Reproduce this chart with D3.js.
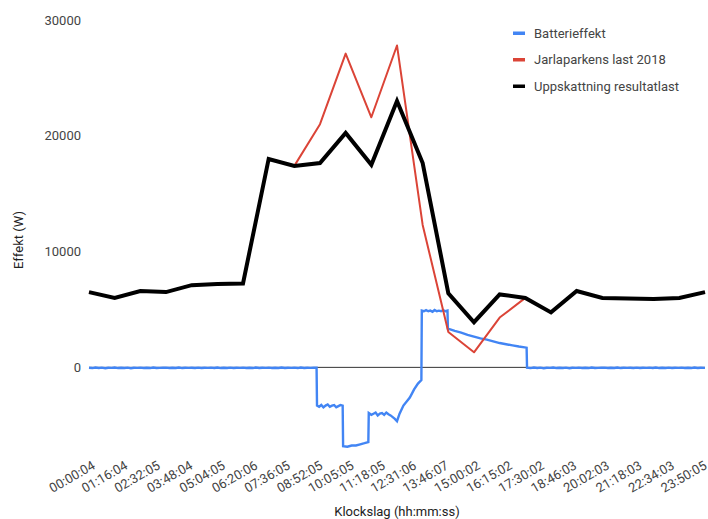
<!DOCTYPE html>
<html>
<head>
<meta charset="utf-8">
<script src="https://cdn.jsdelivr.net/npm/d3@7"></script>
<style>
  html, body { margin: 0; padding: 0; background: #fff; }
  svg { display: block; font-family: Roboto, "Noto Sans", Arial, sans-serif; }
</style>
</head>
<body>
<svg id="chart" width="708" height="519"></svg>
<script>
// ---------- data ----------
const seriesNames = ["Batterieffekt", "Jarlaparkens last 2018", "Uppskattning resultatlast"];
const seriesColors = ["#4285f4", "#db4437", "#000000"];

const xTickLabels = ["00:00:04","01:16:04","02:32:05","03:48:04","05:04:05","06:20:06","07:36:05","08:52:05",
  "10:05:05","11:18:05","12:31:06","13:46:07","15:00:02","16:15:02","17:30:02","18:46:03",
  "20:02:03","21:18:03","22:34:03","23:50:05"];
const yTickValues = [0, 10000, 20000, 30000];

const hourTimes = ["00:00","01:00","02:00","03:00","04:00","05:00","06:00","07:00","08:00","09:00",
  "10:00","11:00","12:00","13:00","14:00","15:00","16:00","17:00","18:00","19:00",
  "20:00","21:00","22:00","23:00","24:00"];
const parkLoad2018 = [6500,6000,6600,6500,7100,7200,7250,18000,17400,21000,27100,21600,27800,12300,3050,1300,4300,6000,4750,6600,6000,5950,5900,6000,6500];
const resultLoad   = [6500,6000,6600,6500,7100,7200,7250,18000,17400,17650,20250,17500,23000,17650,6400,3900,6300,6000,4750,6600,6000,5950,5900,6000,6500];

const batteryTimes = ["00:00","00:08","00:15","00:23","00:30","00:38","00:45","00:53","01:00","01:08","01:15","01:23","01:30","01:38","01:45","01:53",
  "02:00","02:08","02:15","02:23","02:30","02:38","02:45","02:53","03:00","03:08","03:15","03:23","03:30","03:38","03:45","03:53",
  "04:00","04:08","04:15","04:23","04:30","04:38","04:45","04:53","05:00","05:08","05:15","05:23","05:30","05:38","05:45","05:53",
  "06:00","06:08","06:15","06:23","06:30","06:38","06:45","06:53","07:00","07:08","07:15","07:23","07:30","07:38","07:45","07:53",
  "08:00","08:08","08:15","08:23","08:30","08:38","08:45","08:52",
  "08:53","08:58","09:03","09:08","09:13","09:18","09:23","09:28","09:33","09:38","09:43","09:48","09:53",
  "09:54","10:04","10:14","10:24","10:34","10:44","10:53",
  "10:54","11:00","11:05","11:10","11:15","11:20","11:25","11:30","11:35","11:40","11:45","11:50","11:55","12:00","12:06","12:15","12:30","12:40","12:49","12:57",
  "12:58","13:03","13:08","13:13","13:18","13:23","13:28","13:33","13:38","13:43","13:48","13:53","13:58",
  "13:59","14:15","14:30","14:45","15:00","15:15","15:30","15:45","16:00","16:15","16:30","16:45","17:03",
  "17:04","17:12","17:20","17:28","17:35","17:43","17:50","17:58","18:05","18:13","18:20","18:28","18:35","18:43","18:50","18:58",
  "19:05","19:13","19:20","19:28","19:35","19:43","19:50","19:58","20:05","20:13","20:20","20:28","20:35","20:43","20:50","20:58",
  "21:05","21:13","21:20","21:28","21:35","21:43","21:50","21:58","22:05","22:13","22:20","22:28","22:35","22:43","22:50","22:58",
  "23:05","23:13","23:20","23:28","23:35","23:43","23:50","24:00"];
const batteryPower = [-30,-60,-10,-50,-20,-70,-30,-40,-10,-60,-30,-50,-20,-70,-30,-40,
  -20,-50,-30,-60,-10,-50,-40,-30,-20,-60,-30,-50,-10,-60,-30,-40,
  -30,-50,-20,-60,-30,-40,-20,-50,-10,-60,-30,-50,-20,-60,-30,-40,
  -20,-50,-30,-60,-10,-50,-30,-40,-20,-60,-30,-50,-10,-50,-30,-40,
  -20,-60,-10,-50,-30,-40,-20,-30,
  -3300,-3400,-3250,-3450,-3300,-3200,-3400,-3300,-3250,-3450,-3350,-3250,-3300,
  -6800,-6850,-6750,-6750,-6650,-6550,-6450,
  -3950,-4100,-4000,-3900,-4150,-4000,-3950,-4100,-3900,-4050,-4150,-4300,-4450,-4650,-4000,-3300,-2600,-1900,-1400,-1100,
  4900,4850,4950,4850,4900,4800,4950,4850,4900,4850,4950,4850,4900,
  3350,3150,3000,2800,2650,2500,2400,2250,2100,2000,1900,1800,1700,
  -30,-60,-10,-50,-20,-70,-30,-40,-10,-60,-30,-50,-20,-70,-30,-40,
  -20,-50,-30,-60,-10,-50,-40,-30,-20,-60,-30,-50,-10,-60,-30,-40,
  -30,-50,-20,-60,-30,-40,-20,-50,-10,-60,-30,-50,-20,-60,-30,-40,
  -20,-50,-30,-60,-10,-50,-30,-40];

// ---------- helpers ----------
function toMinutes(s) {
  const p = s.split(":").map(Number);
  return p[0] * 60 + p[1] + (p[2] || 0) / 60;
}

// ---------- layout ----------
const svg = d3.select("#chart");
const area = { left: 89, right: 705, top: 20, bottom: 460 };

const x = d3.scaleLinear().domain([0, 24 * 60]).range([area.left, area.right]);
const y = d3.scaleLinear().domain([-8000, 30000]).range([area.bottom, area.top]);

// y tick labels
const yAxis = d3.axisLeft(y).tickValues(yTickValues).tickSize(0).tickPadding(8).tickFormat(d3.format("d"));
const gy = svg.append("g").attr("transform", `translate(${area.left},0)`).call(yAxis);
gy.select(".domain").remove();
gy.selectAll("text").attr("font-size", 13).attr("fill", "#444").attr("font-family", "Roboto, sans-serif");

// baseline at 0
svg.append("line")
  .attr("x1", area.left).attr("x2", area.right)
  .attr("y1", y(0)).attr("y2", y(0))
  .attr("stroke", "#333").attr("stroke-width", 1);

// x tick labels (slanted)
const gx = svg.append("g");
gx.selectAll("text").data(xTickLabels).enter().append("text")
  .attr("transform", d => `translate(${x(toMinutes(d)) + 7},${468}) rotate(-30)`)
  .attr("text-anchor", "end")
  .attr("font-size", 13)
  .attr("fill", "#444")
  .text(d => d);

// lines
const line = d3.line().x(d => x(d[0])).y(d => y(d[1]));
const batteryData = batteryTimes.map((t, i) => [toMinutes(t), batteryPower[i]]);
const parkData = hourTimes.map((t, i) => [toMinutes(t), parkLoad2018[i]]);
const resultData = hourTimes.map((t, i) => [toMinutes(t), resultLoad[i]]);

svg.append("path").datum(batteryData).attr("d", line)
  .attr("fill", "none").attr("stroke", seriesColors[0]).attr("stroke-width", 2.4)
  .attr("stroke-linejoin", "miter");
svg.append("path").datum(parkData).attr("d", line)
  .attr("fill", "none").attr("stroke", seriesColors[1]).attr("stroke-width", 2)
  .attr("stroke-linejoin", "round");
svg.append("path").datum(resultData).attr("d", line)
  .attr("fill", "none").attr("stroke", seriesColors[2]).attr("stroke-width", 4)
  .attr("stroke-linejoin", "miter");

// axis titles
svg.append("text")
  .attr("transform", `translate(23,${(area.top + area.bottom) / 2}) rotate(-90)`)
  .attr("text-anchor", "middle").attr("font-size", 13).attr("fill", "#222")
  .text("Effekt (W)");
svg.append("text")
  .attr("x", (area.left + area.right) / 2).attr("y", 516)
  .attr("text-anchor", "middle").attr("font-size", 13).attr("fill", "#222")
  .text("Klockslag (hh:mm:ss)");

// legend
const legend = svg.append("g");
seriesNames.forEach((name, i) => {
  const cy = 33 + i * 26.5;
  legend.append("rect").attr("x", 513).attr("y", cy - 1.5).attr("width", 12).attr("height", 3.5)
    .attr("fill", seriesColors[i]);
  legend.append("text").attr("x", 534).attr("y", cy + 4.5)
    .attr("font-size", 13).attr("fill", "#444").text(name);
});
</script>
</body>
</html>
